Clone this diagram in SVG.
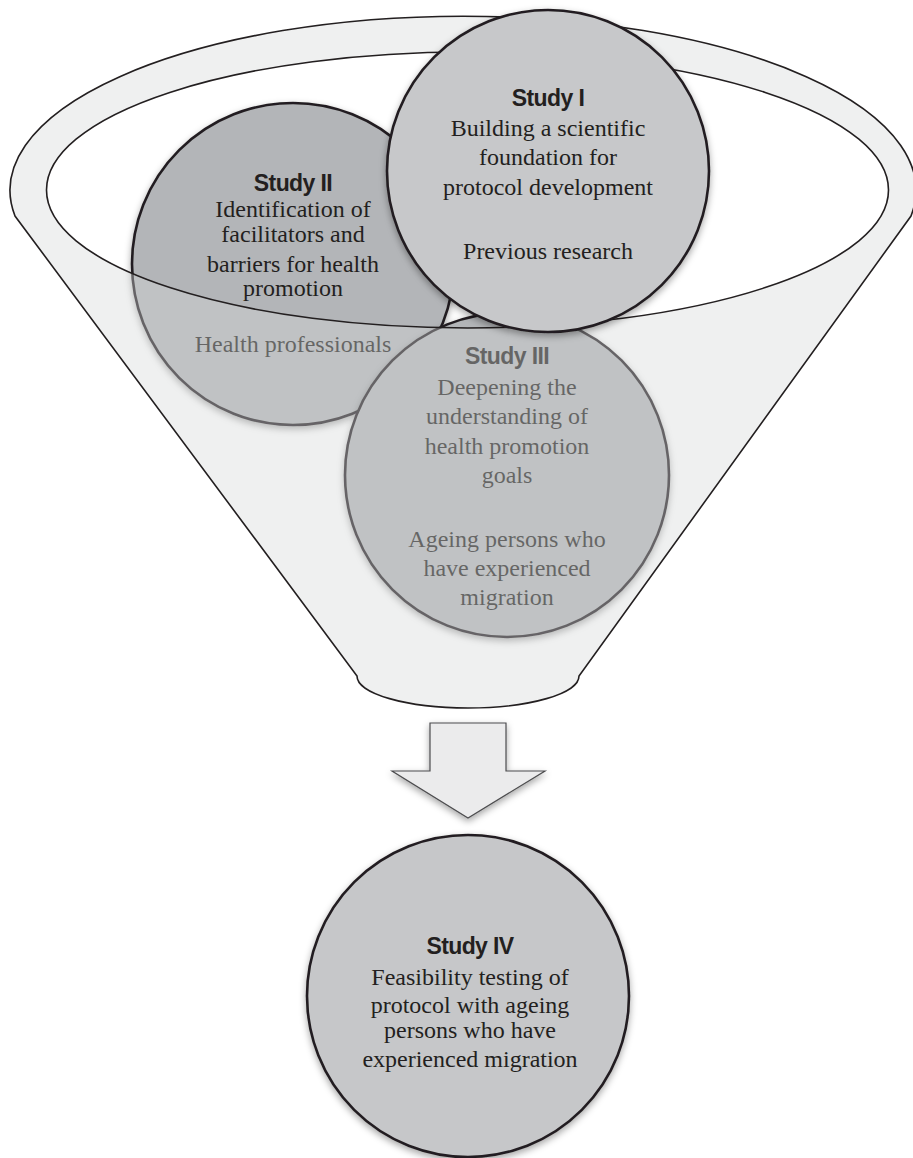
<svg xmlns="http://www.w3.org/2000/svg" width="913" height="1158" viewBox="0 0 913 1158">
<style>
.t{font-family:"Liberation Sans",Arial,sans-serif;font-weight:bold;font-size:23px;letter-spacing:-0.6px;text-anchor:middle;fill:#231f20}
.b{font-family:"Liberation Serif","Times New Roman",serif;font-size:24px;text-anchor:middle;fill:#231f20}
.circ{stroke:#231f20;stroke-width:2.6}
.ln{fill:none;stroke:#231f20;stroke-width:1.6}
</style>
<defs>
<filter id="sh" x="-15%" y="-15%" width="130%" height="135%">
<feDropShadow dx="0" dy="3" stdDeviation="3.5" flood-color="#000" flood-opacity="0.35"/>
</filter>
</defs>

<g id="study2">
<circle cx="293" cy="264" r="161" fill="#b3b5b8" class="circ" stroke-width="3" filter="url(#sh)"/>
<text class="t" x="293" y="191">Study II</text>
<text class="b" x="293" y="217">Identification of</text>
<text class="b" x="293" y="242">facilitators and</text>
<text class="b" x="293" y="272">barriers for health</text>
<text class="b" x="293" y="296">promotion</text>
<text class="b" x="293" y="352">Health professionals</text>
</g>

<g id="study3">
<circle cx="507" cy="475" r="162" fill="#b3b5b8" class="circ" stroke-width="3" filter="url(#sh)"/>
<text class="t" x="507" y="364">Study III</text>
<text class="b" x="507" y="395">Deepening the</text>
<text class="b" x="507" y="424">understanding of</text>
<text class="b" x="507" y="454">health promotion</text>
<text class="b" x="507" y="483">goals</text>
<text class="b" x="507" y="547">Ageing persons who</text>
<text class="b" x="507" y="576">have experienced</text>
<text class="b" x="507" y="605">migration</text>
</g>

<g id="funnel">
<path d="M15,216 A453,174 0 1 1 911,216 L579,676 A111,32 0 0 1 357,676 Z M46.5,190 A421,138 0 1 0 888.5,190 A421,138 0 1 0 46.5,190 Z" fill="#d6d7d7" fill-opacity="0.38" fill-rule="evenodd"/>
<path class="ln" d="M15,216 A453,174 0 1 1 911,216 L579,676 A111,32 0 0 1 357,676 Z"/>
<ellipse class="ln" cx="467.5" cy="190" rx="421" ry="138"/>
</g>

<g id="study1">
<circle cx="548" cy="171" r="161" fill="#c7c8ca" class="circ" filter="url(#sh)"/>
<text class="t" x="548" y="106">Study I</text>
<text class="b" x="548" y="136">Building a scientific</text>
<text class="b" x="548" y="165">foundation for</text>
<text class="b" x="548" y="195">protocol development</text>
<text class="b" x="548" y="259">Previous research</text>
</g>

<g id="connectors">
<path d="M430,723 H506 V771 H545 L468,818 L392,771 H430 Z" fill="#ebebec" stroke="#4d4d4f" stroke-width="1.2" filter="url(#sh)"/>
</g>

<g id="study4">
<circle cx="468" cy="996" r="161" fill="#c6c7c9" class="circ" filter="url(#sh)"/>
<text class="t" x="470" y="954">Study IV</text>
<text class="b" x="470" y="985">Feasibility testing of</text>
<text class="b" x="470" y="1013">protocol with ageing</text>
<text class="b" x="470" y="1038">persons who have</text>
<text class="b" x="470" y="1067">experienced migration</text>
</g>
</svg>
